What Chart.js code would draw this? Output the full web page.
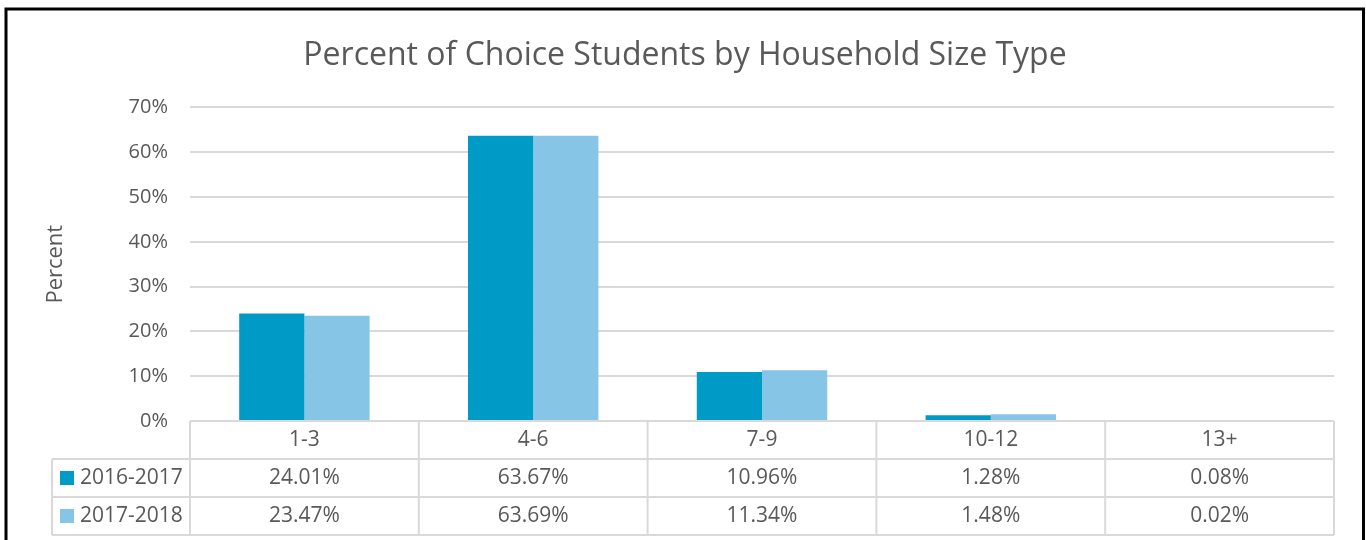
<!DOCTYPE html>
<html>
<head>
<meta charset="utf-8">
<script src="https://cdn.jsdelivr.net/npm/chart.js@4.4.0/dist/chart.umd.min.js"></script>
<style>
    html, body { margin: 0; padding: 0; background: #fff; }
    #wrap { width: 1366px; height: 540px; }
</style>
</head>
<body>
<div id="wrap"><canvas id="myChart" width="1366" height="540"></canvas></div>
<script>
const categories = ['1-3', '4-6', '7-9', '10-12', '13+'];
const seriesNames = ['2016-2017', '2017-2018'];
const values2016 = [24.01, 63.67, 10.96, 1.28, 0.08];
const values2017 = [23.47, 63.69, 11.34, 1.48, 0.02];
const yTicks = [0, 10, 20, 30, 40, 50, 60, 70];

const textColor = '#595959';
const lineColor = '#d9d9d9';
const colors = ['#009ac6', '#86c5e5'];
const font = 'Open Sans';

// data table under the plot, laid out from the x scale
const dataTable = {
    id: 'dataTable',
    afterDraw(chart) {
        const ctx = chart.ctx;
        const x = chart.scales.x;
        const area = chart.chartArea;
        const colW = x.getPixelForValue(1) - x.getPixelForValue(0);
        const left = x.getPixelForValue(0) - colW / 2;
        const right = x.getPixelForValue(categories.length - 1) + colW / 2;
        const rowH = 38;
        const legendLeft = 52;
        const top = area.bottom;
        const bottom = top + rowH * 3;
        const rows = [values2016, values2017];

        ctx.save();
        ctx.strokeStyle = lineColor;
        ctx.lineWidth = 2;
        ctx.beginPath();
        ctx.moveTo(left, top); ctx.lineTo(right, top);
        for (let r = 1; r <= 3; r++) {
            ctx.moveTo(legendLeft, top + rowH * r);
            ctx.lineTo(right, top + rowH * r);
        }
        for (let i = 0; i <= categories.length; i++) {
            ctx.moveTo(left + colW * i, top);
            ctx.lineTo(left + colW * i, bottom);
        }
        ctx.moveTo(legendLeft, top + rowH); ctx.lineTo(legendLeft, bottom);
        ctx.stroke();

        ctx.fillStyle = textColor;
        ctx.font = '21px "' + font + '"';
        ctx.textAlign = 'center';
        ctx.textBaseline = 'middle';
        categories.forEach((c, i) => {
            ctx.fillText(c, x.getPixelForValue(i), top + rowH / 2);
        });
        rows.forEach((vals, r) => {
            const cy = top + rowH * (r + 1) + rowH / 2;
            vals.forEach((v, i) => {
                ctx.fillStyle = textColor;
                ctx.fillText(v.toFixed(2) + '%', x.getPixelForValue(i), cy);
            });
            ctx.fillStyle = colors[r];
            ctx.fillRect(60, cy - 7, 14, 14);
            ctx.fillStyle = textColor;
            ctx.textAlign = 'left';
            ctx.fillText(seriesNames[r], 80, cy);
            ctx.textAlign = 'center';
        });

        // outer frame
        ctx.strokeStyle = '#000';
        ctx.lineWidth = 3;
        ctx.strokeRect(6, 9, 1357.5, 600);
        ctx.restore();
    }
};

const ctx = document.getElementById('myChart');
const myChart = new Chart(ctx, { // eslint-disable-line
    type: 'bar',
    data: {
        labels: categories,
        datasets: [{
            label: seriesNames[0],
            data: values2016,
            backgroundColor: colors[0]
        }, {
            label: seriesNames[1],
            data: values2017,
            backgroundColor: colors[1]
        }]
    },
    options: {
        responsive: false,
        animation: false,
        devicePixelRatio: 1,
        categoryPercentage: 0.57,
        barPercentage: 1.0,
        layout: {
            padding: { left: 36, right: 32, top: 0, bottom: 119 }
        },
        plugins: {
            legend: { display: false },
            tooltip: { enabled: false },
            title: {
                display: true,
                text: 'Percent of Choice Students by Household Size Type',
                color: textColor,
                font: { family: font, size: 32, weight: 'normal' },
                padding: { top: 37, bottom: 32 }
            }
        },
        scales: {
            x: {
                display: false
            },
            y: {
                min: 0,
                max: 70,
                afterBuildTicks: (scale) => {
                    scale.ticks = yTicks.map((v) => ({ value: v }));
                },
                afterFit: (scale) => {
                    scale.width = 154;
                },
                border: { display: false },
                grid: { color: lineColor, lineWidth: 2, drawTicks: false },
                ticks: {
                    color: textColor,
                    font: { family: font, size: 20 },
                    padding: 22,
                    callback: (v) => v + '%'
                },
                title: {
                    display: true,
                    text: 'Percent',
                    color: textColor,
                    font: { family: font, size: 22 },
                    padding: { top: 7, bottom: 0 }
                }
            }
        }
    },
    plugins: [dataTable]
});
</script>
</body>
</html>
